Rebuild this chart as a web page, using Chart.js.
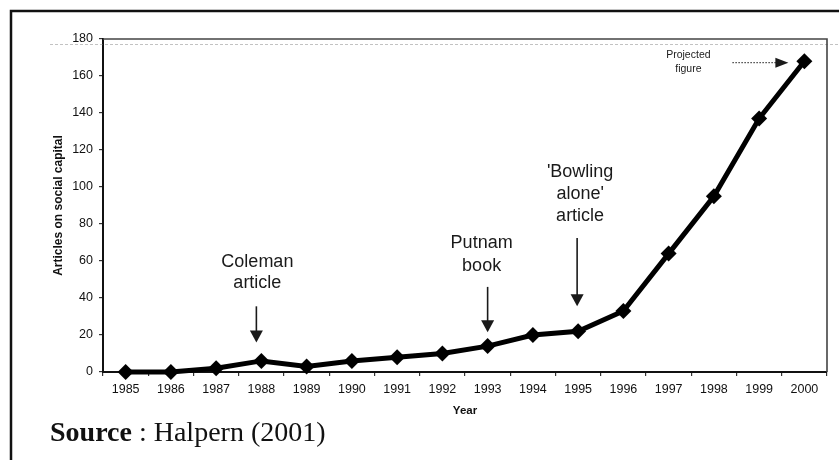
<!DOCTYPE html>
<html lang="en">
<head>
    <meta charset="UTF-8">
    <title>Articles on social capital</title>
    <style>
        body { margin: 0; background: #fff; }
        .chart-container { width: 839px; height: 460px; }
    </style>
</head>
<body>
    <div class="chart-container">
        <canvas id="articles-chart" width="839" height="460"></canvas>
    </div>

    <script src="https://cdn.jsdelivr.net/npm/chart.js"></script>
    <script>
        // values
        var years = ['1985', '1986', '1987', '1988', '1989', '1990', '1991', '1992',
                     '1993', '1994', '1995', '1996', '1997', '1998', '1999', '2000'];
        var articles = [0, 0, 2, 6, 3, 6, 8, 10, 14, 20, 22, 33, 64, 95, 137, 168];
        var yMin = 0, yMax = 180, yStep = 20;

        // callouts: which year they point at, text rows and arrow ends in axis units
        var notes = [
            { year: '1988', lines: ['Coleman', 'article'], textDx: -4, rows: [59.5, 48], arrowDx: -5, from: 35.5, to: 16 },
            { year: '1993', lines: ['Putnam', 'book'], textDx: -6, rows: [69.5, 57.5], arrowDx: 0, from: 46, to: 21.5 },
            { year: '1995', lines: ["'Bowling", "alone'", 'article'], textDx: 2, rows: [108, 96.3, 84.5], arrowDx: -1, from: 72.5, to: 35.5 }
        ];

        Chart.defaults.font.family = "'Liberation Sans', Arial, sans-serif";
        Chart.defaults.color = '#111';

        var decorations = {
            id: 'decorations',
            beforeDraw: function(chart) {
                var c = chart.ctx;
                c.save();
                c.fillStyle = '#fff';
                c.fillRect(0, 0, chart.width, chart.height);
                c.restore();
            },
            afterDraw: function(chart) {
                var c = chart.ctx, a = chart.chartArea;
                var xs = chart.scales.x, ys = chart.scales.y;
                c.save();

                // page border of the scan
                c.strokeStyle = '#111';
                c.lineWidth = 2.5;
                c.beginPath();
                c.moveTo(11, chart.height);
                c.lineTo(11, 11);
                c.lineTo(chart.width, 11);
                c.stroke();

                // faint dotted scan line near the top
                c.strokeStyle = 'rgba(120,120,120,0.45)';
                c.lineWidth = 1;
                c.setLineDash([3, 2]);
                c.beginPath();
                c.moveTo(50, 44.5);
                c.lineTo(chart.width, 44.5);
                c.stroke();
                c.setLineDash([]);

                // plot frame top and right
                c.strokeStyle = '#444';
                c.lineWidth = 1.6;
                c.beginPath();
                c.moveTo(a.left, a.top);
                c.lineTo(a.right, a.top);
                c.lineTo(a.right, a.bottom);
                c.stroke();

                // callouts
                c.fillStyle = '#1a1a1a';
                c.strokeStyle = '#1a1a1a';
                c.textAlign = 'center';
                c.textBaseline = 'middle';
                notes.forEach(function(n) {
                    var px = xs.getPixelForValue(years.indexOf(n.year));
                    c.font = "18px 'Liberation Sans', Arial, sans-serif";
                    n.lines.forEach(function(t, i) {
                        c.fillText(t, px + n.textDx, ys.getPixelForValue(n.rows[i]));
                    });
                    var ax = px + n.arrowDx;
                    var y1 = ys.getPixelForValue(n.from), y2 = ys.getPixelForValue(n.to);
                    c.lineWidth = 1.6;
                    c.beginPath();
                    c.moveTo(ax, y1);
                    c.lineTo(ax, y2 - 10);
                    c.stroke();
                    c.beginPath();
                    c.moveTo(ax - 6.5, y2 - 12);
                    c.lineTo(ax + 6.5, y2 - 12);
                    c.lineTo(ax, y2);
                    c.closePath();
                    c.fill();
                });

                // projected figure note
                var last = years.length - 1;
                var lx = xs.getPixelForValue(last), ly = ys.getPixelForValue(articles[last]);
                c.font = "10.5px 'Liberation Sans', Arial, sans-serif";
                c.fillText('Projected', lx - 116, ly - 6);
                c.fillText('figure', lx - 116, ly + 8);
                c.lineWidth = 1;
                c.setLineDash([1.5, 1.5]);
                c.beginPath();
                c.moveTo(lx - 72, ly + 1.5);
                c.lineTo(lx - 27, ly + 1.5);
                c.stroke();
                c.setLineDash([]);
                c.beginPath();
                c.moveTo(lx - 29, ly - 3.5);
                c.lineTo(lx - 29, ly + 6.5);
                c.lineTo(lx - 16, ly + 1.5);
                c.closePath();
                c.fill();

                // source line
                c.textAlign = 'left';
                c.textBaseline = 'alphabetic';
                c.fillStyle = '#111';
                c.font = "bold 28px 'Liberation Serif', 'Times New Roman', serif";
                c.fillText('Source', 50, 441);
                var w = c.measureText('Source').width;
                c.font = "28px 'Liberation Serif', 'Times New Roman', serif";
                c.fillText(' : Halpern (2001)', 50 + w, 441);

                c.restore();
            }
        };

        var ctx = document.getElementById('articles-chart').getContext('2d');

        var chart = new Chart(ctx, {
            type: 'line',
            data: {
                labels: years,
                datasets: [{
                    label: 'Articles on social capital',
                    data: articles,
                    borderColor: '#000',
                    backgroundColor: '#000',
                    borderWidth: 5,
                    tension: 0,
                    clip: false,
                    pointStyle: 'rectRot',
                    pointRadius: 8,
                    pointBackgroundColor: '#000',
                    pointBorderColor: '#000',
                    pointBorderWidth: 0
                }]
            },
            options: {
                responsive: false,
                animation: false,
                layout: {
                    padding: { left: 0, top: 39, right: 12, bottom: 0 }
                },
                plugins: {
                    legend: { display: false },
                    tooltip: { enabled: false }
                },
                scales: {
                    x: {
                        offset: true,
                        grid: {
                            offset: true,
                            drawOnChartArea: false,
                            tickLength: 4,
                            color: '#333',
                            lineWidth: 1.2
                        },
                        border: { color: '#111', width: 2 },
                        ticks: {
                            padding: 6,
                            maxRotation: 0,
                            autoSkip: false,
                            color: '#111',
                            font: { size: 12.5 }
                        },
                        title: {
                            display: true,
                            text: 'Year',
                            color: '#111',
                            font: { size: 11.5, weight: 'bold' },
                            padding: { top: 0, bottom: 42 }
                        },
                        afterFit: function(scale) { scale.height = 88; }
                    },
                    y: {
                        min: yMin,
                        max: yMax,
                        grid: {
                            drawOnChartArea: false,
                            tickLength: 4,
                            color: '#333',
                            lineWidth: 1.2
                        },
                        border: { color: '#111', width: 2 },
                        ticks: {
                            stepSize: yStep,
                            padding: 6,
                            color: '#111',
                            font: { size: 12.5 }
                        },
                        title: {
                            display: true,
                            text: 'Articles on social capital',
                            color: '#111',
                            font: { size: 12, weight: 'bold' },
                            padding: { top: 51, bottom: 0 }
                        },
                        afterFit: function(scale) { scale.width = 103; }
                    }
                }
            },
            plugins: [decorations]
        });
    </script>
</body>
</html>
